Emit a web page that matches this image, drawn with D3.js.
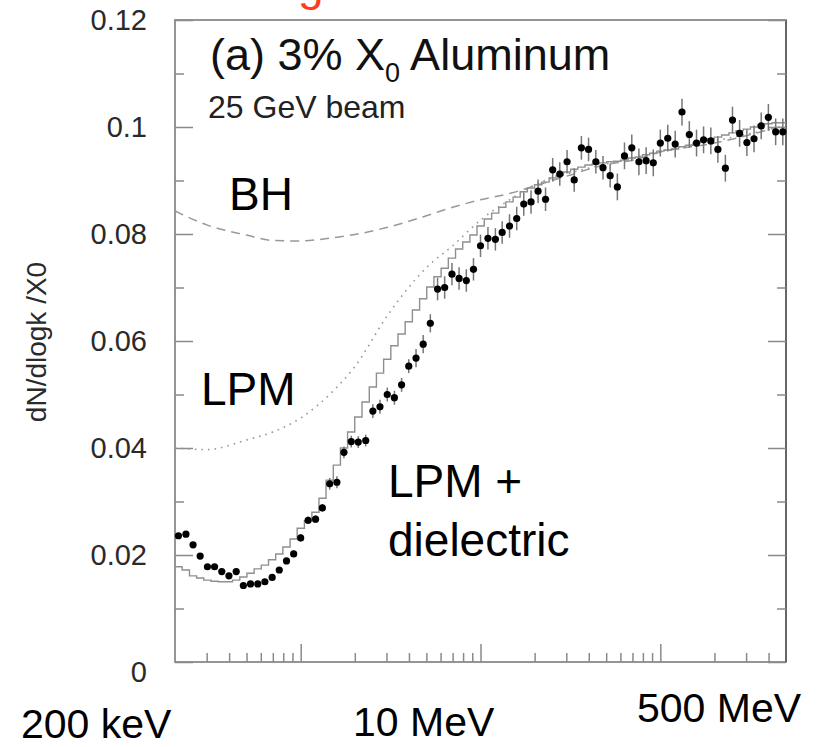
<!DOCTYPE html>
<html><head><meta charset="utf-8">
<script src="https://cdn.jsdelivr.net/npm/d3@7"></script>
<style>
body{margin:0;background:#fff;}
svg{display:block;font-family:Arial,"Liberation Sans",Helvetica,sans-serif;}
</style>
</head><body>
<svg id="c" width="825" height="747"></svg>
<script>
// photon energy bin centres (MeV), 25 bins per decade
const energyMeV = [0.209,0.230,0.252,0.276,0.303,0.332,0.364,0.399,0.438,0.480,0.526,0.577,0.632,0.694,0.760,0.834,0.914,1.00,1.10,1.21,1.32,1.45,1.59,1.74,1.91,
  2.09,2.30,2.52,2.76,3.03,3.32,3.64,3.99,4.38,4.80,5.26,5.77,6.32,6.94,7.60,8.34,9.14,10.0,11.0,12.1,13.2,14.5,15.9,17.4,19.1,
  20.9,23.0,25.2,27.6,30.3,33.2,36.4,39.9,43.8,48.0,52.6,57.7,63.2,69.4,76.0,83.4,91.4,100,110,121,132,145,159,174,191,
  209,230,252,276,303,332,364,399,438,480];
// measured dN/dlogk /X0
const measured = [0.0236,0.0239,0.0219,0.0198,0.0178,0.0178,0.0169,0.0161,0.0169,0.0143,
  0.0146,0.0146,0.0150,0.0158,0.0172,0.0189,0.0202,0.0232,0.0265,0.0267,
  0.0288,0.0333,0.0336,0.0392,0.0412,0.0411,0.0414,0.0469,0.0477,0.0500,
  0.0494,0.0518,0.0553,0.0568,0.0594,0.0633,0.0697,0.0700,0.0725,0.0717,
  0.0713,0.0734,0.0778,0.0792,0.0790,0.0803,0.0815,0.0829,0.0856,0.0860,
  0.0880,0.0865,0.0920,0.0912,0.0935,0.0901,0.0961,0.0958,0.0935,0.0924,
  0.0909,0.0888,0.0946,0.0961,0.0935,0.0937,0.0933,0.0970,0.0979,0.0968,
  0.1028,0.0986,0.0970,0.0976,0.0974,0.0958,0.0923,0.1013,0.0988,0.0971,
  0.0978,0.1002,0.1018,0.0991,0.0991];
const measuredErr = [0.0005,0.0005,0.0005,0.0005,0.0005,0.0005,0.0005,0.0005,0.0005,0.0005,
  0.0005,0.0005,0.0005,0.0005,0.0005,0.0005,0.0005,0.0007,0.0007,0.0007,
  0.0007,0.0011,0.0011,0.0011,0.0011,0.0011,0.0011,0.0013,0.0013,0.0013,
  0.0013,0.0013,0.0013,0.0017,0.0017,0.0017,0.0021,0.0021,0.0021,0.0021,
  0.0021,0.0021,0.0021,0.0021,0.0021,0.0021,0.0022,0.0022,0.0022,0.0022,
  0.0022,0.0022,0.0022,0.0022,0.0022,0.0022,0.0022,0.0022,0.0022,0.0022,
  0.0022,0.0025,0.0025,0.0025,0.0025,0.0025,0.0025,0.0025,0.0025,0.0025,
  0.0025,0.0025,0.0025,0.0025,0.0025,0.0025,0.0025,0.0025,0.0025,0.0025,
  0.0025,0.0025,0.0025,0.0025,0.0025];
// LPM + dielectric simulation (histogram, same bins)
const lpmDielectric = [0.0178,0.0172,0.0161,0.0157,0.0153,0.0151,0.0150,0.0150,0.0153,0.0159,
  0.0166,0.0174,0.0181,0.0191,0.0202,0.0215,0.0230,0.0250,0.0264,0.0280,
  0.0306,0.0340,0.0368,0.0400,0.0430,0.0458,0.0486,0.0514,0.0540,0.0566,
  0.0591,0.0613,0.0636,0.0658,0.0679,0.0701,0.0720,0.0736,0.0755,0.0772,
  0.0785,0.0798,0.0815,0.0828,0.0839,0.0850,0.0860,0.0869,0.0879,0.0886,
  0.0892,0.0897,0.0905,0.0910,0.0916,0.0921,0.0925,0.0929,0.0931,0.0933,
  0.0935,0.0936,0.0938,0.0942,0.0944,0.0948,0.0951,0.0955,0.0957,0.0959,
  0.0963,0.0966,0.0970,0.0974,0.0978,0.0981,0.0985,0.0989,0.0993,0.0996,
  0.1000,0.1004,0.1006,0.1008,0.1008];
// smooth theory curves
const curveK = [0.2,0.3,0.5,0.7,1,1.5,2,3,5,7,10,15,20,30,50,70,100,200,500];
const bhCurve = [0.0843,0.0817,0.0798,0.0788,0.0787,0.0793,0.0799,0.0812,0.0834,0.0850,0.0864,0.0877,0.0890,0.0908,0.0930,0.0938,0.0953,0.0970,0.1004];
const lpmCurve = [0.0400,0.0397,0.0415,0.0430,0.0456,0.0505,0.0552,0.0645,0.0737,0.0778,0.0826,0.0867,0.0892,0.0912,0.0931,0.0942,0.0955,0.0974,0.1002];
// ticks
const yMajor = [0,0.02,0.04,0.06,0.08,0.10,0.12];
const yLabels = ["0","0.02","0.04","0.06","0.08","0.1","0.12"];
const yMinor = [0.01,0.03,0.05,0.07,0.09,0.11];
const xMajor = [1,10,100];
const xMinor = [0.3,0.4,0.5,0.6,0.7,0.8,0.9,2,3,4,5,6,7,8,9,20,30,40,50,60,70,80,90,200,300,400];

const svg = d3.select('#c');
svg.append('rect').attr('width',825).attr('height',747).attr('fill','#fff');
const L=175,R=786,T=20,B=662;
const x = d3.scaleLog().domain([0.2,500]).range([L,R]);
const y = d3.scaleLinear().domain([0,0.12]).range([B,T]);
const FONT = 'Arial,"Liberation Sans",Helvetica,sans-serif';
const AX = '#8a8a8a';

// cut-off slide title fragment (only its lower part is visible in the reference)
svg.append('text').attr('x',298).attr('y',0).attr('font-size',46).attr('fill','#ff3c1e').text('g');

// frame
svg.append('rect').attr('x',L).attr('y',T).attr('width',R-L).attr('height',B-T)
  .attr('fill','none').attr('stroke',AX).attr('stroke-width',1.8);
svg.append('line').attr('x1',R).attr('x2',R).attr('y1',T).attr('y2',B)
  .attr('stroke','#666').attr('stroke-width',2);

function styleAxis(g){
  g.select('.domain').remove();
  g.selectAll('.tick line').attr('stroke',AX).attr('stroke-width',1.5);
  g.attr('font-family',FONT);
  return g;
}
// left axis
const gl = svg.append('g').attr('transform',`translate(${L},0)`)
  .call(d3.axisLeft(y).tickValues(yMajor).tickSize(-18).tickPadding(28).tickFormat((d,i)=>yLabels[i]));
styleAxis(gl);
gl.attr('font-size',29);
gl.selectAll('text').attr('fill','#2a2a2a');
gl.selectAll('.tick').filter(d=>d===0).select('text').attr('dy','0.66em');
styleAxis(svg.append('g').attr('transform',`translate(${L},0)`)
  .call(d3.axisLeft(y).tickValues(yMinor).tickSize(-9).tickFormat('')));
// right axis
styleAxis(svg.append('g').attr('transform',`translate(${R},0)`)
  .call(d3.axisRight(y).tickValues(yMajor).tickSize(-18).tickFormat('')));
styleAxis(svg.append('g').attr('transform',`translate(${R},0)`)
  .call(d3.axisRight(y).tickValues(yMinor).tickSize(-9).tickFormat('')));
// bottom axis
styleAxis(svg.append('g').attr('transform',`translate(0,${B})`)
  .call(d3.axisBottom(x).tickValues(xMajor).tickSize(-18).tickFormat('')));
styleAxis(svg.append('g').attr('transform',`translate(0,${B})`)
  .call(d3.axisBottom(x).tickValues(xMinor).tickSize(-9).tickFormat('')));

// y axis title
svg.append('text').attr('transform','translate(46,342) rotate(-90)')
  .attr('text-anchor','middle').attr('font-size',28).attr('fill','#2a2a2a').text('dN/dlogk /X0');

// theory curves
const cl = d3.line().x(d=>x(d[0])).y(d=>y(d[1])).curve(d3.curveMonotoneX);
svg.append('path').attr('d',cl(curveK.map((k,i)=>[k,bhCurve[i]])))
  .attr('fill','none').attr('stroke','#999').attr('stroke-width',1.5).attr('stroke-dasharray','9,6');
svg.append('path').attr('d',cl(curveK.map((k,i)=>[k,lpmCurve[i]])))
  .attr('fill','none').attr('stroke','#999').attr('stroke-width',1.6).attr('stroke-dasharray','1.6,5');
// histogram
const histPts = [[x.domain()[0],lpmDielectric[0]], ...energyMeV.map((k,i)=>[k,lpmDielectric[i]]), [x.domain()[1],lpmDielectric[lpmDielectric.length-1]]];
svg.append('path').attr('d',d3.line().x(d=>x(d[0])).y(d=>y(d[1])).curve(d3.curveStep)(histPts))
  .attr('fill','none').attr('stroke','#8f8f8f').attr('stroke-width',1.4);

// data
const pts = energyMeV.map((k,i)=>({k,v:measured[i],e:measuredErr[i]}));
svg.append('g').selectAll('line').data(pts).join('line')
  .attr('x1',d=>x(d.k)).attr('x2',d=>x(d.k)).attr('y1',d=>y(d.v-d.e)).attr('y2',d=>y(d.v+d.e))
  .attr('stroke','#777').attr('stroke-width',1.5);
svg.append('g').selectAll('circle').data(pts).join('circle')
  .attr('cx',d=>x(d.k)).attr('cy',d=>y(d.v)).attr('r',3.6).attr('fill','#000');

// texts
const title = svg.append('text').attr('x',210).attr('y',70).attr('font-size',45).attr('fill','#111');
title.append('tspan').text('(a) 3% X');
title.append('tspan').attr('font-size',27).attr('dy',12).text('0');
title.append('tspan').attr('dy',-12).text(' Aluminum');
svg.append('text').attr('x',208).attr('y',118).attr('font-size',32).attr('fill','#222').text('25 GeV beam');

svg.append('text').attr('x',229).attr('y',210).attr('font-size',46).text('BH');
svg.append('text').attr('x',201).attr('y',405).attr('font-size',46).text('LPM');
svg.append('text').attr('x',388).attr('y',497).attr('font-size',46).text('LPM +');
svg.append('text').attr('x',388).attr('y',556).attr('font-size',46).text('dielectric');

svg.append('text').attr('x',21).attr('y',738).attr('font-size',41).text('200 keV');
svg.append('text').attr('x',353).attr('y',736).attr('font-size',41).text('10 MeV');
svg.append('text').attr('x',637).attr('y',722).attr('font-size',41).text('500 MeV');
</script>
</body></html>
